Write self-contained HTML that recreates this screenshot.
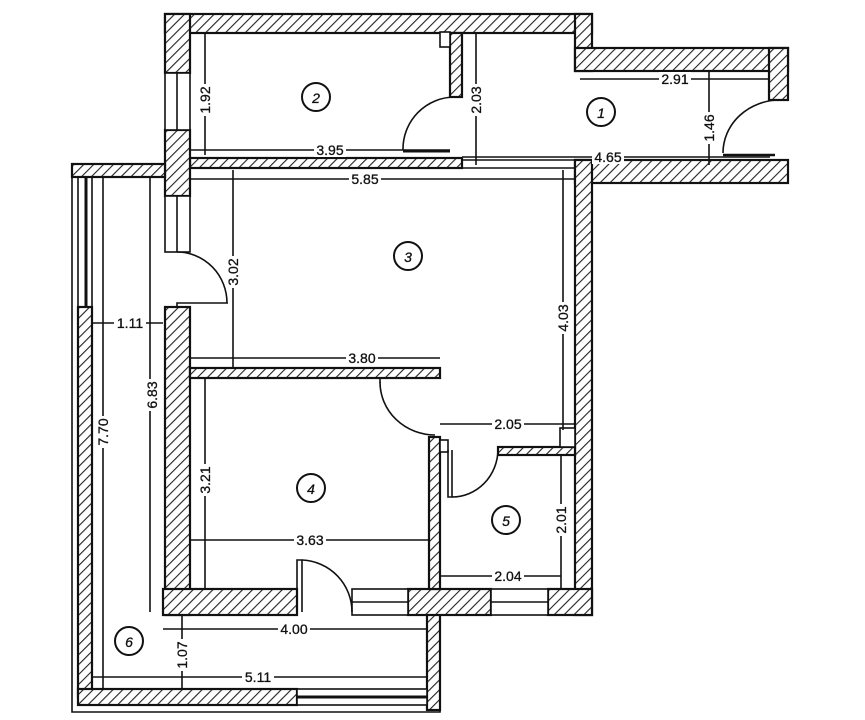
<!DOCTYPE html>
<html><head><meta charset="utf-8"><style>
html,body{margin:0;padding:0;background:#fff;}
svg{display:block;}
text{font-family:"Liberation Sans",sans-serif;font-size:14px;fill:#111;stroke:#111;stroke-width:0.3px;}
</style></head><body>
<svg width="865" height="720" viewBox="0 0 865 720" xmlns="http://www.w3.org/2000/svg">
<defs>
<pattern id="h" patternUnits="userSpaceOnUse" width="7" height="7" patternTransform="rotate(45)">
<rect width="7" height="7" fill="#fff"/>
<line x1="0" y1="0" x2="0" y2="7" stroke="#222" stroke-width="2.2"/>
</pattern>
</defs>
<g stroke="#111" stroke-width="2.2" fill="url(#h)">
<rect x="165" y="14" width="427" height="19"/>
<rect x="575" y="14" width="17" height="57"/>
<rect x="575" y="48" width="213" height="23"/>
<rect x="769" y="48" width="19" height="52"/>
<rect x="575" y="160" width="213" height="23"/>
<rect x="575" y="160" width="17" height="455"/>
<rect x="190" y="158" width="272" height="10"/>
<rect x="450" y="33" width="12" height="64"/>
<rect x="165" y="14" width="25" height="59"/>
<rect x="165" y="130" width="25" height="66"/>
<rect x="165" y="307" width="25" height="308"/>
<rect x="72" y="164" width="93" height="13"/>
<rect x="78" y="307" width="14" height="390"/>
<rect x="78" y="689" width="219" height="16"/>
<rect x="427" y="612" width="13" height="98"/>
<rect x="190" y="368" width="250" height="10"/>
<rect x="163" y="589" width="134" height="26"/>
<rect x="408" y="589" width="83" height="26"/>
<rect x="548" y="589" width="44" height="26"/>
<rect x="429" y="437" width="11" height="152"/>
<rect x="498" y="447" width="77" height="8"/>
</g>
<g stroke="#111" stroke-width="1.6" fill="none">
<rect x="440" y="32" width="10" height="15" fill="#fff"/>
<rect x="560" y="428" width="15" height="19" fill="#fff"/>
<rect x="440" y="440" width="8" height="12" fill="#fff"/>
<rect x="165" y="73" width="25" height="57" fill="#fff"/><line x1="177" y1="73" x2="177" y2="130"/>
<rect x="165" y="196" width="25" height="56" fill="#fff"/><line x1="177" y1="196" x2="177" y2="252"/>
<rect x="352" y="589" width="56" height="26" fill="#fff"/><line x1="352" y1="602" x2="408" y2="602"/>
<rect x="491" y="589" width="57" height="26" fill="#fff"/><line x1="491" y1="602" x2="548" y2="602"/>
<rect x="297" y="689" width="130" height="16" fill="#fff"/><line x1="297" y1="697" x2="427" y2="697" stroke-width="3"/>
<polyline points="72,164 72,712 440,712 440,705"/>
<line x1="78" y1="177" x2="78" y2="307"/>
<line x1="86" y1="177" x2="86" y2="307" stroke-width="3"/>
<line x1="92" y1="177" x2="92" y2="307"/>
<line x1="462" y1="160" x2="575" y2="160"/>
<line x1="190" y1="168" x2="575" y2="168"/>
<path d="M403,150 A52,52 0 0 1 455,97"/><line x1="403" y1="151" x2="450" y2="151" stroke-width="3"/>
<path d="M723,153 A57,53 0 0 1 780,100"/><line x1="723" y1="155" x2="775" y2="155" stroke-width="2.5"/>
<path d="M177,252 A50,51 0 0 1 227,303"/><polyline points="177,307 177,303 228,303"/>
<path d="M380,382 A55,53 0 0 0 435,435"/><line x1="380" y1="378" x2="380" y2="383"/>
<path d="M452,497 A46,48 0 0 0 498,450"/><polyline points="448,450 448,497 452,497 452,450"/>
<path d="M302,560 A52,52 0 0 1 352,612"/><polyline points="297,612 297,560 302,560 302,612"/>
<line x1="205" y1="33" x2="205" y2="155"/>
<line x1="476" y1="33" x2="476" y2="165"/>
<line x1="190" y1="150" x2="450" y2="150"/>
<line x1="462" y1="157" x2="770" y2="157"/>
<line x1="580" y1="79" x2="770" y2="79"/>
<line x1="709" y1="71" x2="709" y2="165"/>
<line x1="190" y1="179" x2="575" y2="179"/>
<line x1="233" y1="170" x2="233" y2="368"/>
<line x1="563" y1="170" x2="563" y2="430"/>
<line x1="92" y1="323" x2="163" y2="323"/>
<line x1="150" y1="177" x2="150" y2="612"/>
<line x1="103" y1="177" x2="103" y2="689"/>
<line x1="190" y1="358" x2="440" y2="358"/>
<line x1="205" y1="378" x2="205" y2="589"/>
<line x1="190" y1="540" x2="429" y2="540"/>
<line x1="440" y1="424" x2="575" y2="424"/>
<line x1="561" y1="455" x2="561" y2="589"/>
<line x1="440" y1="576" x2="561" y2="576"/>
<line x1="163" y1="629" x2="427" y2="629"/>
<line x1="182" y1="615" x2="182" y2="689"/>
<line x1="92" y1="677" x2="427" y2="677"/>
<g stroke-width="2">
<circle cx="601" cy="112" r="14"/>
<circle cx="316" cy="97" r="14"/>
<circle cx="408" cy="256" r="14"/>
<circle cx="311" cy="488" r="14"/>
<circle cx="506" cy="520" r="14"/>
<circle cx="129" cy="641" r="14"/>
</g>
</g>
<g text-anchor="middle" dominant-baseline="central">
<g style="font-size:17px;font-style:italic">
<text x="601" y="113">1</text><text x="316" y="98">2</text><text x="408" y="257">3</text>
<text x="311" y="489">4</text><text x="506" y="521">5</text><text x="129" y="642">6</text>
</g>
<g>
<rect x="314" y="143" width="32" height="14" fill="#fff"/><text x="330" y="150">3.95</text>
<rect x="592" y="150" width="32" height="14" fill="#fff"/><text x="608" y="157">4.65</text>
<rect x="659" y="72" width="32" height="14" fill="#fff"/><text x="675" y="79">2.91</text>
<rect x="349" y="172" width="32" height="14" fill="#fff"/><text x="365" y="179">5.85</text>
<rect x="114" y="316" width="32" height="14" fill="#fff"/><text x="130" y="323">1.11</text>
<rect x="346" y="351" width="32" height="14" fill="#fff"/><text x="362" y="358">3.80</text>
<rect x="294" y="533" width="32" height="14" fill="#fff"/><text x="310" y="540">3.63</text>
<rect x="492" y="417" width="32" height="14" fill="#fff"/><text x="508" y="424">2.05</text>
<rect x="492" y="569" width="32" height="14" fill="#fff"/><text x="508" y="576">2.04</text>
<rect x="278" y="622" width="32" height="14" fill="#fff"/><text x="294" y="629">4.00</text>
<rect x="242" y="670" width="32" height="14" fill="#fff"/><text x="258" y="677">5.11</text>
<g transform="translate(205,100) rotate(-90)"><rect x="-16" y="-7" width="32" height="14" fill="#fff"/><text>1.92</text></g>
<g transform="translate(476,100) rotate(-90)"><rect x="-16" y="-7" width="32" height="14" fill="#fff"/><text>2.03</text></g>
<g transform="translate(709,128) rotate(-90)"><rect x="-16" y="-7" width="32" height="14" fill="#fff"/><text>1.46</text></g>
<g transform="translate(233,272) rotate(-90)"><rect x="-16" y="-7" width="32" height="14" fill="#fff"/><text>3.02</text></g>
<g transform="translate(563,318) rotate(-90)"><rect x="-16" y="-7" width="32" height="14" fill="#fff"/><text>4.03</text></g>
<g transform="translate(152,395) rotate(-90)"><rect x="-16" y="-7" width="32" height="14" fill="#fff"/><text>6.83</text></g>
<g transform="translate(103,432) rotate(-90)"><rect x="-16" y="-7" width="32" height="14" fill="#fff"/><text>7.70</text></g>
<g transform="translate(205,480) rotate(-90)"><rect x="-16" y="-7" width="32" height="14" fill="#fff"/><text>3.21</text></g>
<g transform="translate(561,520) rotate(-90)"><rect x="-16" y="-7" width="32" height="14" fill="#fff"/><text>2.01</text></g>
<g transform="translate(182,655) rotate(-90)"><rect x="-16" y="-7" width="32" height="14" fill="#fff"/><text>1.07</text></g>
</g>
</g>
</svg>
</body></html>
